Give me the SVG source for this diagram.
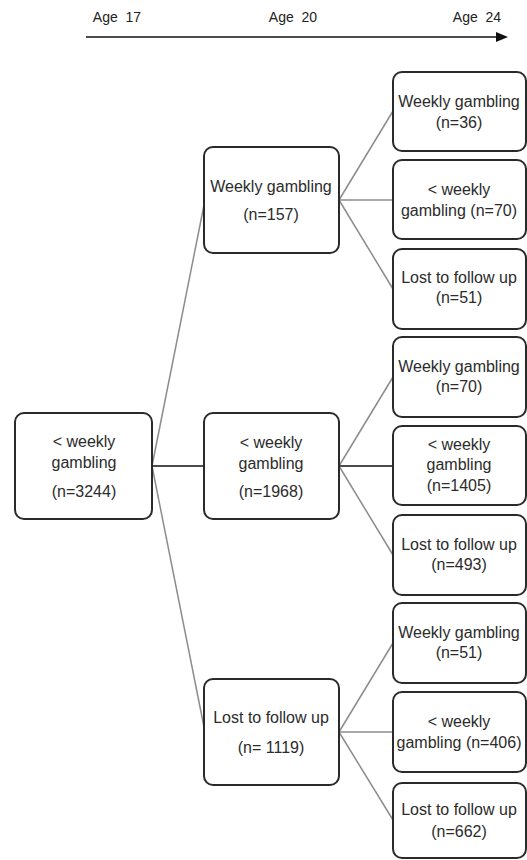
<svg xmlns="http://www.w3.org/2000/svg" width="527" height="860" viewBox="0 0 527 860">
<style>
.box{fill:#fff;stroke:#2a2a2a;stroke-width:2}
.t{font-family:"Liberation Sans",Arial,sans-serif;font-size:16px;fill:#2b2b2b;text-anchor:middle}
.age{font-family:"Liberation Sans",Arial,sans-serif;font-size:14px;fill:#222;text-anchor:middle}
.c{stroke:#8c8c8c;stroke-width:1.5;fill:none}
.ck{stroke:#111;stroke-width:1.5;fill:none}
</style>
<rect width="527" height="860" fill="#fff"/>
<g id="timeline">
<text class="age" x="117" y="22" xml:space="preserve">Age  17</text>
<text class="age" x="293" y="22" xml:space="preserve">Age  20</text>
<text class="age" x="477" y="22" xml:space="preserve">Age  24</text>
<line x1="86" y1="37" x2="498" y2="37" stroke="#111" stroke-width="1.5"/>
<polygon points="496,32 508,37 496,42" fill="#111"/>
</g>
<g id="connectors">
<line class="c" x1="152" y1="466" x2="204" y2="205"/>
<line class="ck" x1="152" y1="466" x2="204" y2="466"/>
<line class="c" x1="152" y1="466" x2="204" y2="727"/>
<line class="c" x1="339" y1="200" x2="393" y2="111"/>
<line class="c" x1="339" y1="200" x2="393" y2="200"/>
<line class="c" x1="339" y1="200" x2="393" y2="289"/>
<line class="c" x1="339" y1="466" x2="393" y2="377"/>
<line class="ck" x1="339" y1="466" x2="393" y2="466"/>
<line class="c" x1="339" y1="466" x2="393" y2="555"/>
<line class="c" x1="339" y1="732" x2="393" y2="643"/>
<line class="c" x1="339" y1="732" x2="393" y2="732"/>
<line class="c" x1="339" y1="732" x2="393" y2="820"/>
</g>
<g id="root">
<rect class="box" x="15" y="413" width="137" height="106" rx="9"/>
<text class="t" x="84" y="447">&lt; weekly</text>
<text class="t" x="84" y="468">gambling</text>
<text class="t" x="84" y="497">(n=3244)</text>
</g>
<g id="mid1">
<rect class="box" x="204" y="147" width="135" height="106" rx="9"/>
<text class="t" x="271" y="192">Weekly gambling</text>
<text class="t" x="271" y="220">(n=157)</text>
</g>
<g id="mid2">
<rect class="box" x="204" y="413" width="135" height="106" rx="9"/>
<text class="t" x="271" y="448">&lt; weekly</text>
<text class="t" x="271" y="469">gambling</text>
<text class="t" x="271" y="497">(n=1968)</text>
</g>
<g id="mid3">
<rect class="box" x="204" y="679" width="135" height="106" rx="9"/>
<text class="t" x="271" y="723">Lost to follow up</text>
<text class="t" x="271" y="753">(n= 1119)</text>
</g>
<g id="r1">
<rect class="box" x="393" y="72" width="133" height="79" rx="9"/>
<text class="t" x="459" y="107">Weekly gambling</text>
<text class="t" x="459" y="128">(n=36)</text>
</g>
<g id="r2">
<rect class="box" x="393" y="160" width="133" height="79" rx="9"/>
<text class="t" x="459" y="195">&lt; weekly</text>
<text class="t" x="459" y="216">gambling (n=70)</text>
</g>
<g id="r3">
<rect class="box" x="393" y="249" width="133" height="80" rx="9"/>
<text class="t" x="459" y="283">Lost to follow up</text>
<text class="t" x="459" y="303">(n=51)</text>
</g>
<g id="r4">
<rect class="box" x="393" y="337" width="133" height="80" rx="9"/>
<text class="t" x="459" y="372">Weekly gambling</text>
<text class="t" x="459" y="392">(n=70)</text>
</g>
<g id="r5">
<rect class="box" x="393" y="426" width="133" height="79" rx="9"/>
<text class="t" x="459" y="450">&lt; weekly</text>
<text class="t" x="459" y="470">gambling</text>
<text class="t" x="459" y="491">(n=1405)</text>
</g>
<g id="r6">
<rect class="box" x="393" y="515" width="133" height="80" rx="9"/>
<text class="t" x="459" y="550">Lost to follow up</text>
<text class="t" x="459" y="570">(n=493)</text>
</g>
<g id="r7">
<rect class="box" x="393" y="603" width="133" height="80" rx="9"/>
<text class="t" x="459" y="638">Weekly gambling</text>
<text class="t" x="459" y="658">(n=51)</text>
</g>
<g id="r8">
<rect class="box" x="393" y="692" width="133" height="80" rx="9"/>
<text class="t" x="459" y="727">&lt; weekly</text>
<text class="t" x="459" y="748">gambling (n=406)</text>
</g>
<g id="r9">
<rect class="box" x="393" y="783" width="133" height="75" rx="9"/>
<text class="t" x="459" y="815">Lost to follow up</text>
<text class="t" x="459" y="837">(n=662)</text>
</g>
</svg>
